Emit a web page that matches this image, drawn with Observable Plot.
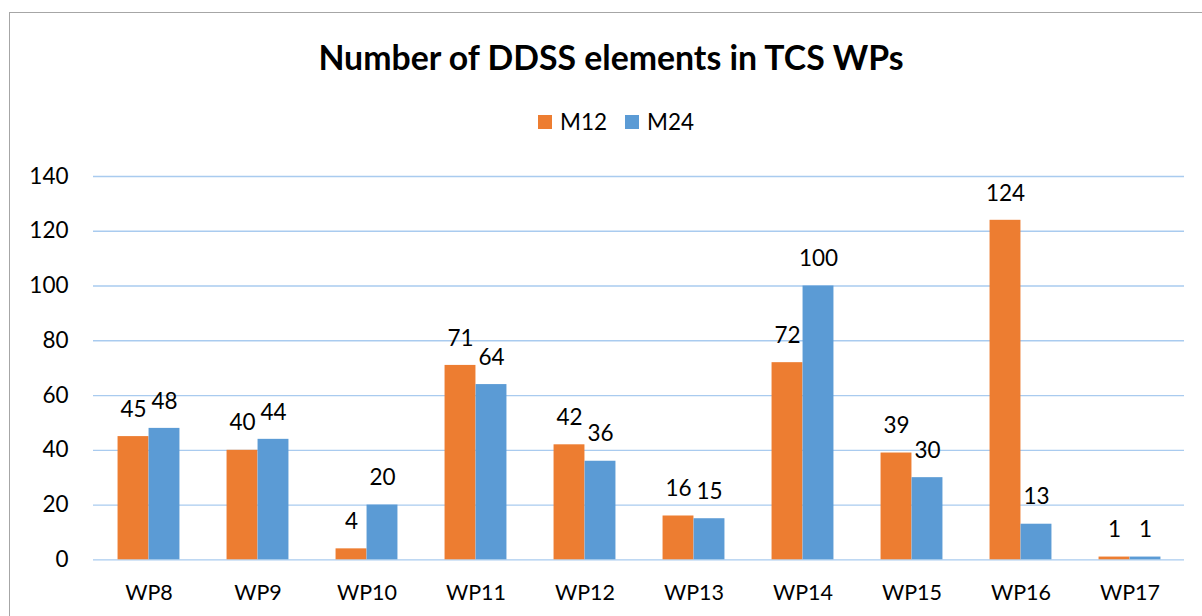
<!DOCTYPE html>
<html>
<head>
<meta charset="utf-8">
<script src="https://cdn.jsdelivr.net/npm/d3@7"></script>
<script src="https://cdn.jsdelivr.net/npm/@observablehq/plot@0.6"></script>
<style>
  html, body { margin: 0; padding: 0; background: #fff; }
  #wrap { position: relative; width: 1202px; height: 616px; overflow: hidden; font-family: Lato, "Open Sans", sans-serif; color: #000; }
  #frame { position: absolute; left: 9px; top: 12px; width: 1300px; height: 700px; border-left: 1.5px solid #a6a6a6; border-top: 1.5px solid #a6a6a6; }
  #title { position: absolute; left: 611px; top: 35px; transform: translateX(-50%); white-space: nowrap; font-weight: 700; font-size: 33.8px; line-height: 44px; }
  #legend { position: absolute; left: 616px; top: 109px; transform: translateX(-50%); display: flex; align-items: center; white-space: nowrap; font-size: 22.5px; line-height: 26px; }
  .sw { display: inline-block; width: 14px; height: 14px; margin-right: 8px; }
  .item { display: flex; align-items: center; margin: 0 9px; }
  #chart { position: absolute; left: 0; top: 140px; }
</style>
</head>
<body>
<div id="wrap">
  <div id="frame"></div>
  <div id="title">Number of DDSS elements in TCS WPs</div>
  <div id="legend"></div>
  <div id="chart"></div>
</div>
<script>
const wps = ["WP8", "WP9", "WP10", "WP11", "WP12", "WP13", "WP14", "WP15", "WP16", "WP17"];
const m12 = [45, 40, 4, 71, 42, 16, 72, 39, 124, 1];
const m24 = [48, 44, 20, 64, 36, 15, 100, 30, 13, 1];
const seriesNames = ["M12", "M24"];
const seriesColors = ["#ED7D31", "#5B9BD5"];
const yTicks = [0, 20, 40, 60, 80, 100, 120, 140];

const data = wps.map((wp, i) => ({wp, m12: m12[i], m24: m24[i]}));

const legend = document.getElementById("legend");
seriesNames.forEach((n, i) => {
  const it = document.createElement("div");
  it.className = "item";
  it.innerHTML = `<span class="sw" style="background:${seriesColors[i]}"></span><span>${n}</span>`;
  legend.appendChild(it);
});

const W = 1202, H = 476;
const mL = 93, mR = 18, mT = 36, mB = 56.7;
const band = (W - mL - mR) / wps.length;
const barW = 31;
const outer = (band - 2 * barW) / 2;

const chart = Plot.plot({
  width: W,
  height: H,
  marginLeft: mL,
  marginRight: mR,
  marginTop: mT,
  marginBottom: mB,
  style: {fontFamily: "Lato, 'Open Sans', sans-serif", fontSize: "22.5px", color: "#000", background: "transparent"},
  x: {domain: wps, padding: 0},
  y: {domain: [0, 140]},
  marks: [
    Plot.gridY(yTicks, {stroke: "#a9cbef", strokeOpacity: 1, strokeWidth: 1.3}),
    Plot.barY(data, {x: "wp", y: "m12", fill: seriesColors[0], insetLeft: outer, insetRight: outer + barW}),
    Plot.barY(data, {x: "wp", y: "m24", fill: seriesColors[1], insetLeft: outer + barW, insetRight: outer}),
    Plot.text(data, {x: "wp", y: "m12", text: d => String(d.m12), dx: -barW / 2, dy: -27, fill: "#000", fontSize: 22.5, lineAnchor: "middle"}),
    Plot.text(data, {x: "wp", y: "m24", text: d => String(d.m24), dx: barW / 2, dy: -27, fill: "#000", fontSize: 22.5, lineAnchor: "middle"}),
    Plot.axisY({ticks: yTicks, tickSize: 0, tickPadding: 25, fontSize: 22.5, fill: "#000", label: null}),
    Plot.axisX({tickSize: 0, tickPadding: 25, fontSize: 21.5, fill: "#000", label: null})
  ]
});
document.getElementById("chart").appendChild(chart);
</script>
</body>
</html>
